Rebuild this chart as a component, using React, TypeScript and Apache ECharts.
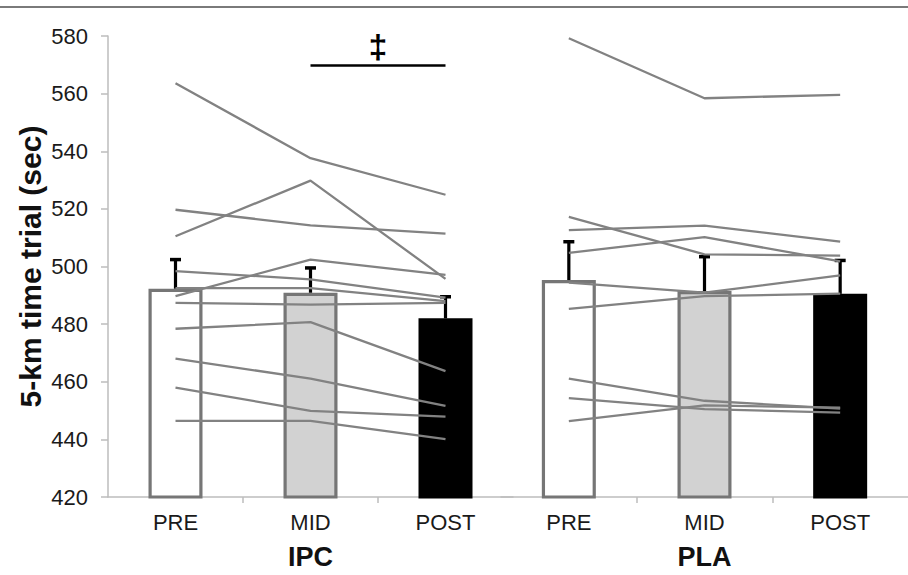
import React, { useEffect, useRef } from "react";
import * as echarts from "echarts";

// ---- data ----
const CATEGORIES = ["PRE", "MID", "POST"];
const GROUPS = ["IPC", "PLA"];
const Y_TICKS = { min: 420, max: 580, interval: 20 };

const IPC_MEAN = [492.3, 490.9, 482.0];
const IPC_SD = [10.1, 8.6, 7.5];
const PLA_MEAN = [495.3, 491.5, 490.5];
const PLA_SD = [13.3, 11.9, 11.6];

// individual participants: [PRE, MID, POST]
const IPC_SUBJECTS = [
  [563.6, 537.6, 524.9],
  [510.5, 529.8, 495.7],
  [519.7, 514.3, 511.4],
  [489.7, 502.4, 497.1],
  [498.4, 495.5, 489.2],
  [492.5, 492.5, 488.0],
  [487.4, 486.8, 487.4],
  [478.4, 480.7, 463.7],
  [468.0, 461.1, 451.6],
  [458.0, 449.9, 447.9],
  [446.4, 446.4, 440.1],
];
const PLA_SUBJECTS = [
  [579.2, 558.4, 559.6],
  [517.2, 504.2, 503.8],
  [512.6, 514.2, 508.6],
  [504.7, 510.2, 501.8],
  [494.4, 490.9, 496.9],
  [485.3, 489.7, 490.6],
  [461.1, 453.4, 450.7],
  [454.3, 450.5, 449.3],
  [446.3, 451.8, 451.0],
];

// significance bracket (IPC MID vs POST)
const SIG_LEVEL = 569.8;
const SIG_MARK = "‡";

// ---- styles ----
const FONT = "'Liberation Sans', Arial, sans-serif";
const BAR_STYLES = [
  { color: "#ffffff", borderColor: "#767676", borderWidth: 3.2 },
  { color: "#d2d2d2", borderColor: "#767676", borderWidth: 3.2 },
  { color: "#000000", borderColor: "#000000", borderWidth: 3 },
];
const AXIS_GRAY = "#bdbdbd";
const LINE_GRAY = "#828282";

// slots: a gap slot between every category so ticks can sit at the gaps
const SLOTS: string[] = [];
CATEGORIES.forEach((c, i) => {
  SLOTS.push(`gap${i}`);
  SLOTS.push(c);
});
SLOTS.push(`gap${CATEGORIES.length}`);
const slotOf = (i: number) => 2 * i + 1;

function expand(vals: number[]): (number | null)[] {
  const out: (number | null)[] = SLOTS.map(() => null);
  vals.forEach((v, i) => {
    out[slotOf(i)] = v;
  });
  return out;
}

function groupSeries(axisIdx: number, means: number[], sds: number[], subjects: number[][], withSig: boolean) {
  const series: any[] = [];
  const barData = expand(means).map((v, k) => {
    if (v === null) return "-";
    const ci = (k - 1) / 2;
    return { value: v, itemStyle: BAR_STYLES[ci] };
  });
  const bar: any = {
    type: "bar",
    xAxisIndex: axisIdx,
    yAxisIndex: axisIdx,
    data: barData,
    barWidth: 54,
    z: 2,
  };
  if (withSig) {
    bar.markLine = {
      silent: true,
      symbol: ["none", "none"],
      lineStyle: { color: "#000", width: 2.6, type: "solid" },
      label: {
        show: true,
        formatter: SIG_MARK,
        position: "insideMiddleTop",
        color: "#000",
        fontSize: 34,
        fontWeight: "bold",
        fontFamily: FONT,
        distance: 2,
      },
      data: [[{ coord: [2.95, SIG_LEVEL] }, { coord: [5.15, SIG_LEVEL] }]],
    };
  }
  series.push(bar);

  series.push({
    type: "custom",
    xAxisIndex: axisIdx,
    yAxisIndex: axisIdx,
    z: 3,
    encode: { x: 0, y: 1 },
    data: means.map((m, i) => [slotOf(i), m, sds[i]]),
    renderItem: (params: any, api: any) => {
      const x = api.value(0);
      const m = api.value(1);
      const s = api.value(2);
      const p0 = api.coord([x, m]);
      const p1 = api.coord([x, m + s]);
      return {
        type: "group",
        children: [
          {
            type: "line",
            shape: { x1: p0[0], y1: p0[1], x2: p1[0], y2: p1[1] },
            style: { stroke: "#000", lineWidth: 3.2 },
          },
          {
            type: "line",
            shape: { x1: p1[0] - 5.5, y1: p1[1], x2: p1[0] + 5.5, y2: p1[1] },
            style: { stroke: "#000", lineWidth: 3.5 },
          },
        ],
      };
    },
  });

  subjects.forEach((s) => {
    series.push({
      type: "line",
      xAxisIndex: axisIdx,
      yAxisIndex: axisIdx,
      data: expand(s),
      connectNulls: true,
      showSymbol: false,
      symbol: "none",
      lineStyle: { color: LINE_GRAY, width: 2.3 },
      z: 4,
    });
  });
  return series;
}

export default function App() {
  const ref = useRef<HTMLDivElement>(null);
  useEffect(() => {
    if (!ref.current) return;
    const chart = echarts.init(ref.current, undefined, { renderer: "svg" });

    const xAxis = (gridIndex: number, name: string) => ({
      type: "category",
      gridIndex,
      data: SLOTS,
      boundaryGap: false,
      name,
      nameLocation: "middle",
      nameGap: 46,
      nameTextStyle: { fontSize: 27, fontWeight: "bold", color: "#111", fontFamily: FONT },
      axisLine: { show: true, lineStyle: { color: AXIS_GRAY, width: 1.5 } },
      axisTick: {
        show: true,
        interval: (i: number) => i % 2 === 0 && i !== 0 && i !== SLOTS.length - 1,
        length: 6,
        lineStyle: { color: AXIS_GRAY, width: 1.5 },
      },
      axisLabel: {
        interval: (i: number) => i % 2 === 1,
        fontSize: 22,
        color: "#1a1a1a",
        fontFamily: FONT,
        margin: 14,
      },
      splitLine: { show: false },
    });

    const yAxis = (gridIndex: number, show: boolean) => ({
      type: "value",
      gridIndex,
      show,
      min: Y_TICKS.min,
      max: Y_TICKS.max,
      interval: Y_TICKS.interval,
      name: show ? "5-km time trial (sec)" : "",
      nameLocation: "middle",
      nameRotate: 90,
      nameGap: 63,
      nameTextStyle: { fontSize: 30, fontWeight: "bold", color: "#111", fontFamily: FONT },
      axisLine: { show: true, lineStyle: { color: AXIS_GRAY, width: 1.5 } },
      axisTick: { show: true, length: 7, lineStyle: { color: AXIS_GRAY, width: 1.5 } },
      axisLabel: { fontSize: 22, color: "#1a1a1a", fontFamily: FONT, margin: 20 },
      splitLine: { show: false },
    });

    chart.setOption({
      animation: false,
      backgroundColor: "#ffffff",
      grid: [
        { left: 108, top: 36, width: 405, height: 462 },
        { left: 501, top: 36, width: 415, height: 462 },
      ],
      xAxis: [xAxis(0, GROUPS[0]), xAxis(1, GROUPS[1])],
      yAxis: [yAxis(0, true), yAxis(1, false)],
      graphic: [
        {
          type: "line",
          shape: { x1: 0, y1: 7, x2: 908, y2: 7 },
          style: { stroke: "#7a7a7a", lineWidth: 2 },
          silent: true,
        },
      ],
      series: [
        ...groupSeries(0, IPC_MEAN, IPC_SD, IPC_SUBJECTS, true),
        ...groupSeries(1, PLA_MEAN, PLA_SD, PLA_SUBJECTS, false),
      ],
    });
    return () => chart.dispose();
  }, []);
  return (
    <div
      ref={ref}
      style={{ position: "absolute", left: 0, top: 0, width: 908, height: 575, background: "#fff" }}
    />
  );
}
